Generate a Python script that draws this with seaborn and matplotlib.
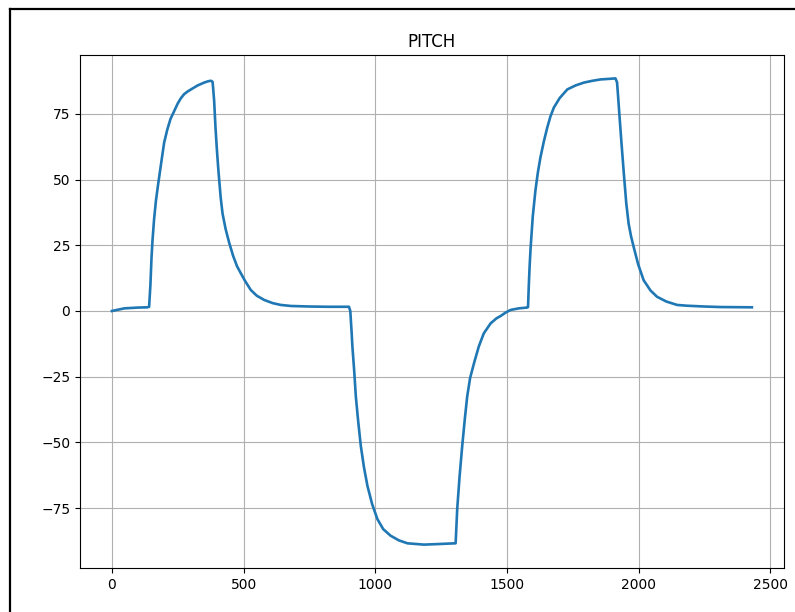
import seaborn as sns
import pandas as pd
import matplotlib.pyplot as plt
from matplotlib.lines import Line2D

# pitch trace
sample = [0, 47, 100, 135, 141, 146, 150, 154, 160, 167, 175, 185, 198, 210, 222,
          236, 250, 262, 274, 287, 300, 325, 350, 365, 376, 382,
          384, 388, 393, 398, 403, 407, 413, 420, 432, 445, 460, 475, 489,
          505, 527, 550, 578, 610, 641, 680, 750, 820, 900,
          905, 910, 913, 920, 926, 935, 945, 957, 970, 988, 1008, 1030, 1058,
          1090, 1122, 1185, 1235, 1280, 1305,
          1308, 1311, 1320, 1330, 1340, 1349, 1360, 1375, 1393, 1412, 1438,
          1460, 1476, 1495, 1514, 1545, 1577, 1580,
          1583, 1586, 1590, 1598, 1608, 1617, 1627, 1640, 1653, 1665, 1678,
          1700, 1729, 1760, 1792, 1825, 1855, 1885, 1912,
          1918, 1921, 1925, 1934, 1944, 1953, 1962, 1971, 1981, 1998, 2019,
          2045, 2070, 2105, 2146, 2184, 2250, 2310, 2430]
pitch = [0.0, 1.0, 1.3, 1.4, 1.6, 10.0, 20.0, 27.0, 35.0, 42.0, 48.0, 55.0, 64.0, 69.0, 73.0,
         76.0, 79.0, 81.0, 82.5, 83.5, 84.3, 85.8, 86.9, 87.4, 87.6, 87.2,
         85.0, 80.0, 70.0, 62.0, 55.0, 50.0, 43.0, 37.0, 31.0, 26.0, 21.0, 17.0, 14.4,
         11.5, 8.0, 5.8, 4.2, 3.0, 2.3, 1.9, 1.7, 1.6, 1.6,
         0.0, -8.0, -13.5, -23.0, -32.5, -42.0, -51.4, -59.5, -66.5, -73.5, -79.2, -83.0, -85.5,
         -87.3, -88.4, -88.9, -88.7, -88.5, -88.4,
         -82.0, -75.4, -63.0, -51.4, -41.0, -32.5, -25.5, -19.8, -13.5, -8.5, -4.7,
         -2.8, -1.9, -0.6, 0.4, 1.0, 1.3, 1.5,
         10.0, 17.0, 24.4, 36.0, 45.8, 52.5, 58.4, 64.5, 69.8, 74.0, 77.4,
         81.0, 84.3, 85.8, 86.9, 87.6, 88.1, 88.3, 88.5,
         87.0, 83.0, 77.4, 65.0, 52.0, 41.0, 33.2, 28.5, 24.4, 17.8, 11.7,
         7.8, 5.4, 3.6, 2.3, 2.0, 1.7, 1.5, 1.4]

df = pd.DataFrame({"sample": sample, "pitch": pitch})

fig = plt.figure(figsize=(7.95, 6.12), dpi=100)
ax = fig.add_axes([0.1006, 0.072, 0.8854, 0.838])
sns.lineplot(data=df, x="sample", y="pitch", ax=ax, color="#1f77b4", lw=1.9)
ax.set_title("PITCH")
ax.set_xlabel("")
ax.set_ylabel("")
ax.set_xticks([0, 500, 1000, 1500, 2000, 2500])
ax.set_yticks([-75, -50, -25, 0, 25, 50, 75])
ax.grid(True)

# screenshot frame on the left and top
fig.add_artist(Line2D([0.012, 0.012], [0, 0.985], transform=fig.transFigure, color="black", lw=1.6))
fig.add_artist(Line2D([0.012, 1], [0.985, 0.985], transform=fig.transFigure, color="black", lw=1.6))

fig.savefig("out.png", dpi=100)
